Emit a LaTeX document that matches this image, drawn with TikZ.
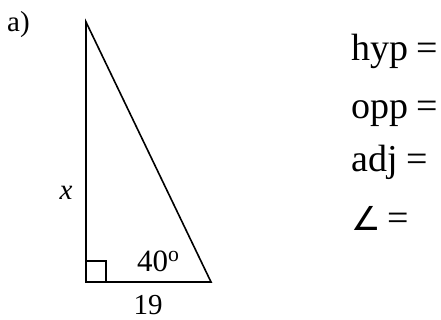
\documentclass[tikz,border=0pt]{standalone}
\usepackage{fontspec}
\setmainfont{Liberation Serif}
\newfontfamily\symfont{DejaVu Sans}
\begin{document}
\begin{tikzpicture}[x=1pt,y=-1pt,
  edge/.style={line width=1.6pt,line join=miter},
  lbl/.style={inner sep=0pt,font=\fontsize{29}{34}\selectfont},
  eqn/.style={inner sep=0pt,anchor=base west,font=\fontsize{38}{46}\selectfont}]
\useasboundingbox[fill=white] (0,0) rectangle (441,320);
\coordinate (A) at (86,22);
\coordinate (B) at (86,282);
\coordinate (C) at (211,282);
\draw[edge] (A) -- (B) -- (C) -- cycle;
\draw[line width=1.3pt] (86,261) rectangle (106,282);
\node[lbl,anchor=base west] (lab) at (7,32) {a)};
\node[lbl,anchor=base] (xl) at (66,200) {\itshape x};
\node[lbl,anchor=base west] (ang) at (137,271) {\fontsize{31}{34}\selectfont 40\textsuperscript{o}};
\node[lbl,anchor=base] (base) at (148,314) {19};
\node[eqn] (h) at (351,61) {hyp\hspace{-1pt} =};
\node[eqn] (o) at (351,119) {opp\hspace{-1pt} =};
\node[eqn] (a) at (351,172) {adj\hspace{-1pt} =};
\node[eqn] (g) at (351,230) {{\symfont\fontsize{33}{40}\selectfont ∠}\hspace{-3pt} =};
\end{tikzpicture}
\end{document}
